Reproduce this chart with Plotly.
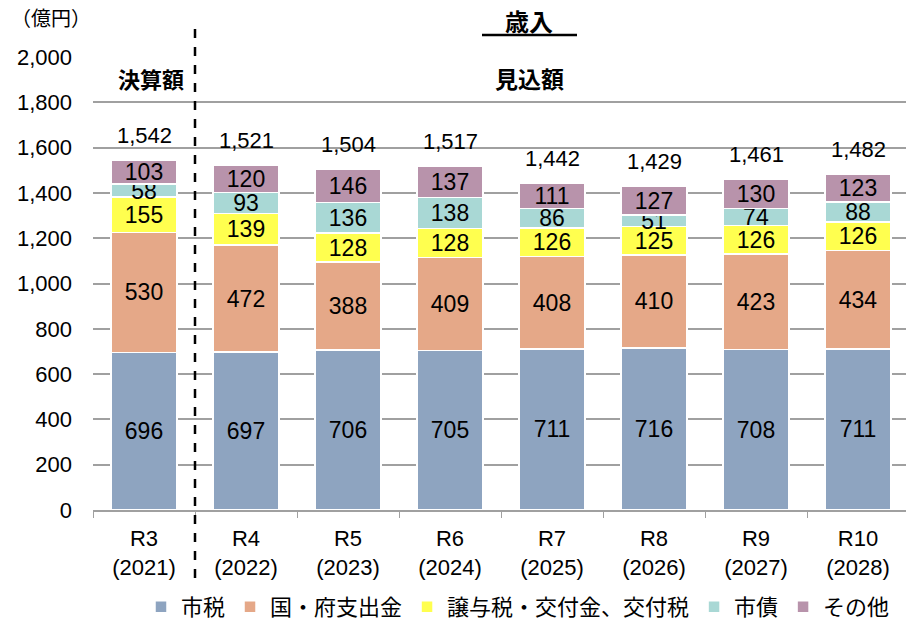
import plotly.graph_objects as go

categories = ["R3<br>(2021)", "R4<br>(2022)", "R5<br>(2023)", "R6<br>(2024)",
              "R7<br>(2025)", "R8<br>(2026)", "R9<br>(2027)", "R10<br>(2028)"]
series_names = ["市税", "国・府支出金", "譲与税・交付金、交付税", "市債", "その他"]
shizei = [696, 697, 706, 705, 711, 716, 708, 711]
kokufu = [530, 472, 388, 409, 408, 410, 423, 434]
joyo = [155, 139, 128, 128, 126, 125, 126, 126]
shisai = [58, 93, 136, 138, 86, 51, 74, 88]
sonota = [103, 120, 146, 137, 111, 127, 130, 123]
totals = [1542, 1521, 1504, 1517, 1442, 1429, 1461, 1482]
y_ticks = list(range(0, 2001, 200))

colors = ["#8EA4C0", "#E5A888", "#FFFF4F", "#A9D8D5", "#B893AB"]
FONT = "Liberation Sans, Arial, Noto Sans CJK JP, sans-serif"

fig = go.Figure()
for name, vals, col in zip(series_names, [shizei, kokufu, joyo, shisai, sonota], colors):
    fig.add_trace(go.Bar(
        name=name, x=categories, y=vals,
        marker=dict(color=col, line=dict(color="white", width=1.5)),
        text=[str(v) for v in vals], textposition="inside", textangle=0,
        insidetextanchor="middle", constraintext="none",
        textfont=dict(size=23, color="black", family=FONT),
        hoverinfo="skip",
    ))

annotations = []
for c, t in zip(categories, totals):
    annotations.append(dict(x=c, y=t, xref="x", yref="y", text=f"{t:,}",
                            showarrow=False, yshift=25,
                            font=dict(size=22, color="black", family=FONT)))

# page has an 8px body margin: screen = figure + 8
OFF = 8
FW, FH = 914 - OFF, 620 - OFF
# plot area in screen pixels: x 93..909, y 57..510
L, R, T, B = 93 - OFF, FW - (909 - OFF), 57 - OFF, FH - (510 - OFF)
W, H = 909 - 93, 510 - 57
def px(x):
    return (x - 93) / W
def py(y):
    return (510 - y) / H

annotations += [
    dict(x=px(9), y=py(19), xref="paper", yref="paper", text="（億円）", showarrow=False,
         xanchor="left", yanchor="middle", font=dict(size=20, color="black", family=FONT)),
    dict(x=px(529), y=py(22), xref="paper", yref="paper", text="<b>歳入</b>", showarrow=False,
         xanchor="center", yanchor="middle", font=dict(size=24, color="black", family=FONT)),
    dict(x=px(151), y=py(80), xref="paper", yref="paper", text="<b>決算額</b>", showarrow=False,
         xanchor="center", yanchor="middle", font=dict(size=22, color="black", family=FONT)),
    dict(x=px(529), y=py(80), xref="paper", yref="paper", text="<b>見込額</b>", showarrow=False,
         xanchor="center", yanchor="middle", font=dict(size=23, color="black", family=FONT)),
    dict(x=px(908), y=py(545), xref="paper", yref="paper", text="(年度)", showarrow=False,
         xanchor="left", yanchor="middle", font=dict(size=22, color="black", family=FONT)),
]

shapes = [
    dict(type="line", xref="x", yref="paper", x0=0.5, x1=0.5, y0=py(578), y1=py(22),
         line=dict(color="black", width=2.5, dash="dash")),
    dict(type="line", xref="paper", yref="paper", x0=px(482), x1=px(577), y0=py(35), y1=py(35),
         line=dict(color="black", width=2.5)),
]

fig.update_layout(
    barmode="stack", bargap=0.35,
    width=FW, height=FH,
    margin=dict(l=L, r=R, t=T, b=B, autoexpand=False),
    paper_bgcolor="white", plot_bgcolor="white",
    font=dict(family=FONT, size=22, color="black"),
    showlegend=True,
    legend=dict(orientation="h", x=px(518), xanchor="center", y=py(607), yanchor="middle",
                font=dict(size=22, color="black", family=FONT), traceorder="normal",
                itemwidth=30, tracegroupgap=0),
    annotations=annotations, shapes=shapes,
    xaxis=dict(showgrid=False, showline=True, linecolor="#A0A0A0", linewidth=1.5,
               ticks="outside", tickson="boundaries", ticklen=6, tickcolor="#A0A0A0",
               ticklabelstandoff=8, automargin=False,
               tickfont=dict(size=22, color="black", family=FONT), fixedrange=True),
    yaxis=dict(range=[0, 2000], tickvals=y_ticks, tickformat=",d", showgrid=True,
               gridcolor="#A0A0A0", gridwidth=1.5, zeroline=False, showline=False,
               ticks="", ticklabelstandoff=20, automargin=False,
               tickfont=dict(size=22, color="black", family=FONT), fixedrange=True),
)

fig.write_html("out.html")
